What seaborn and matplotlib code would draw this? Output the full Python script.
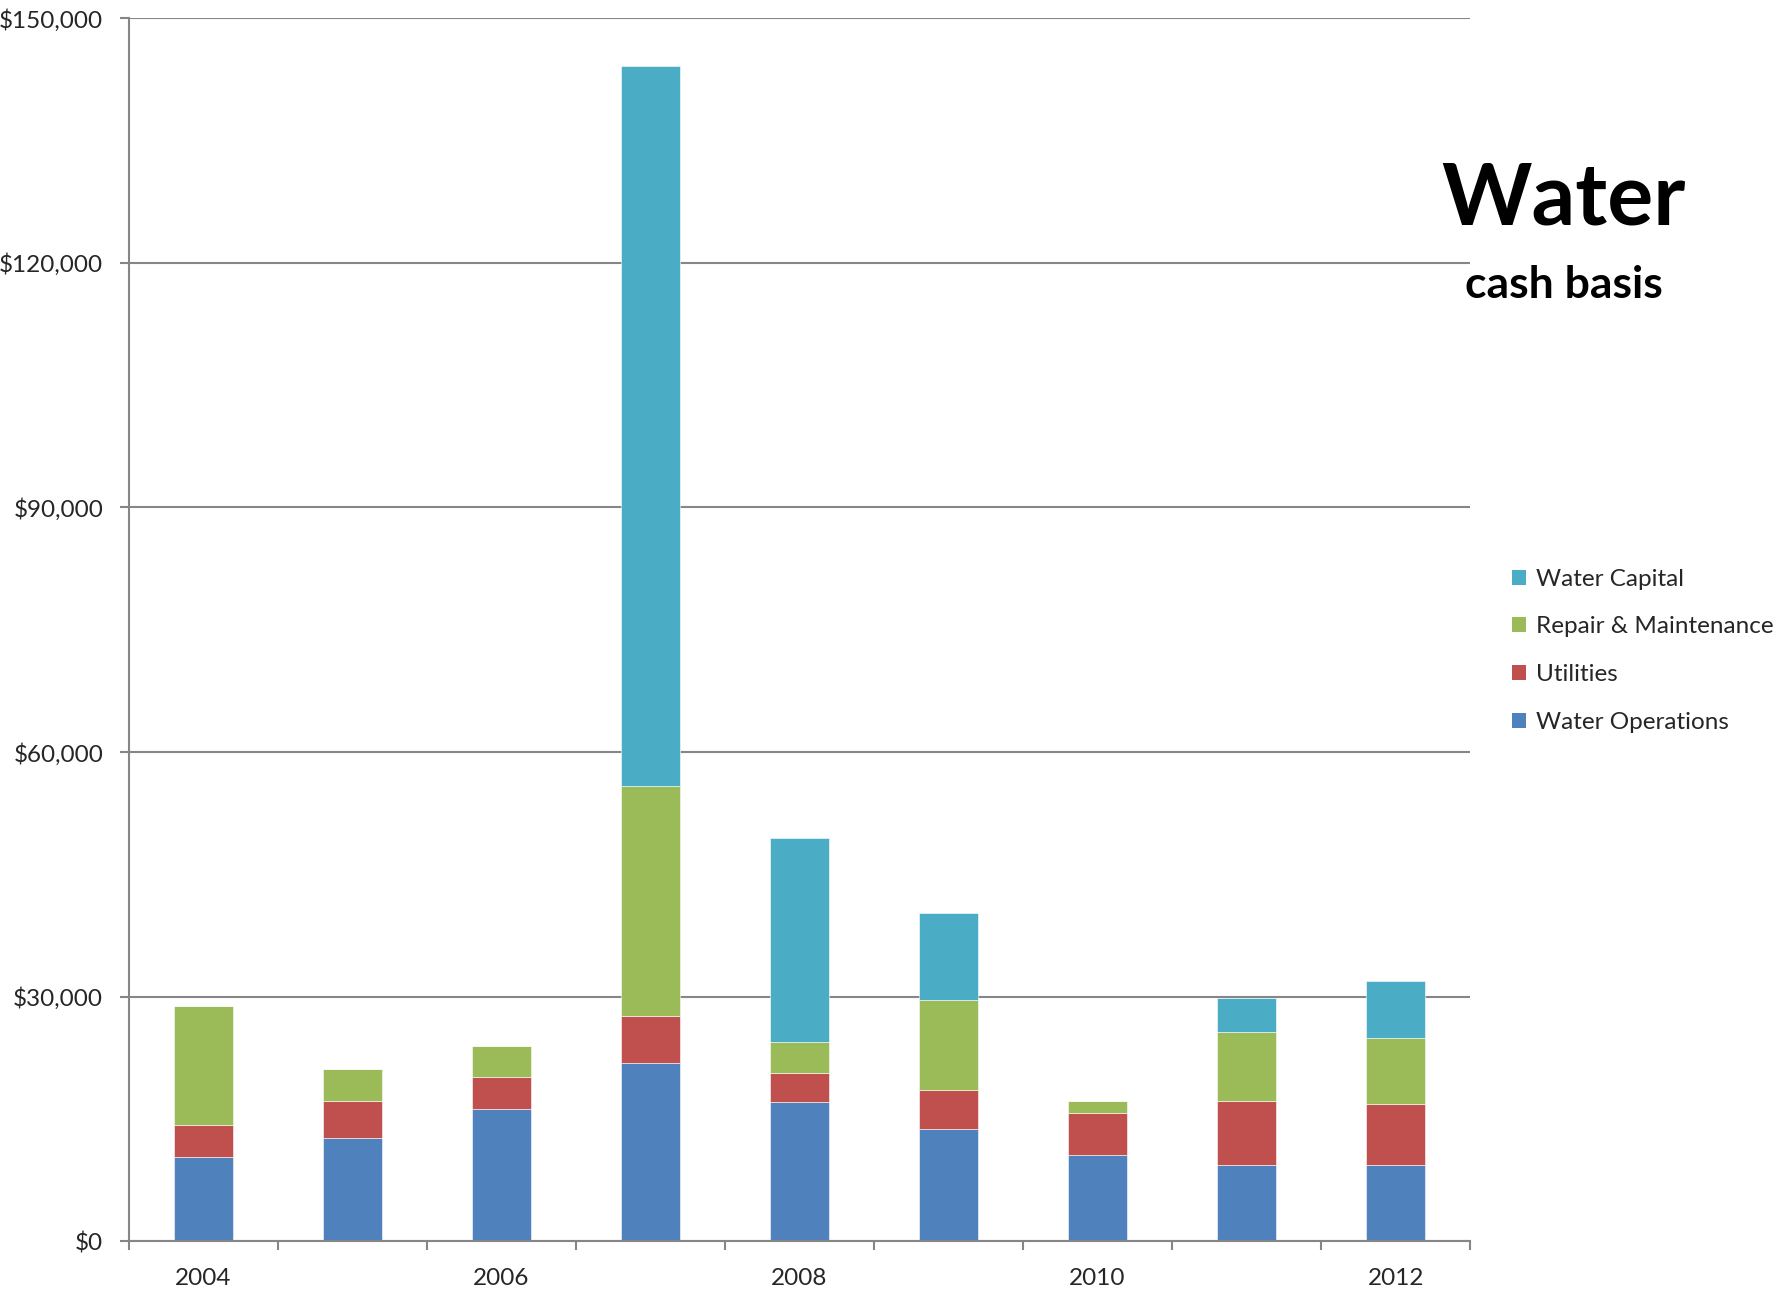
import matplotlib
matplotlib.use("Agg")
import matplotlib.pyplot as plt
from matplotlib.patches import Patch
from matplotlib.ticker import FuncFormatter, FixedLocator
import pandas as pd
import seaborn as sns

years = [2004, 2005, 2006, 2007, 2008, 2009, 2010, 2011, 2012]
water_operations = [10300, 12700, 16200, 21850, 17050, 13800, 10650, 9350, 9400]
utilities = [4000, 4550, 3950, 5750, 3550, 4800, 5100, 7900, 7500]
repair_maintenance = [14600, 3950, 3850, 28300, 3850, 11000, 1450, 8450, 8050]
water_capital = [0, 0, 0, 88200, 25050, 10700, 0, 4200, 7000]

series_names = ["Water Capital", "Repair & Maintenance", "Utilities", "Water Operations"]
series_colors = ["#4BACC6", "#9BBB59", "#C0504D", "#4F81BD"]
y_ticks = [0, 30000, 60000, 90000, 120000, 150000]
x_labels = [2004, 2006, 2008, 2010, 2012]

df = pd.DataFrame({
    "year": years * 4,
    "amount": water_capital + repair_maintenance + utilities + water_operations,
    "series": (["Water Capital"] * len(years) + ["Repair & Maintenance"] * len(years)
               + ["Utilities"] * len(years) + ["Water Operations"] * len(years)),
})

sns.set_theme(style="white")
plt.rcParams["font.family"] = ["Lato", "DejaVu Sans"]

fig = plt.figure(figsize=(17.87, 12.97), dpi=100)
ax = fig.add_axes([0.0721, 0.0428, 0.7506, 0.9432])

sns.histplot(
    data=df, x="year", weights="amount", hue="series",
    hue_order=series_names, palette=series_colors,
    multiple="stack", discrete=True, shrink=0.4,
    alpha=1, edgecolor="white", linewidth=0.4, legend=False, ax=ax,
)

ax.set_xlim(2003.5, 2012.5)
ax.set_ylim(0, 150000)
ax.set_xlabel("")
ax.set_ylabel("")

grid_c = "#868686"
ax.yaxis.set_major_locator(FixedLocator(y_ticks))
ax.yaxis.set_major_formatter(FuncFormatter(lambda v, p: f"${v:,.0f}"))
ax.grid(axis="y", color=grid_c, linewidth=1.5)
ax.set_axisbelow(True)

ax.xaxis.set_major_locator(FixedLocator([y - 0.5 for y in years] + [years[-1] + 0.5]))
ax.xaxis.set_major_formatter(FuncFormatter(lambda v, p: ""))
ax.xaxis.set_minor_locator(FixedLocator(x_labels))
ax.xaxis.set_minor_formatter(FuncFormatter(lambda v, p: f"{int(round(v))}"))

ax.tick_params(axis="x", which="major", direction="out", length=6.5, width=1.5,
               color=grid_c, bottom=True)
ax.tick_params(axis="x", which="minor", length=0, pad=19, labelsize=17.5, bottom=True)
ax.tick_params(axis="y", which="major", direction="out", length=6.5, width=1.5,
               color=grid_c, pad=12, labelsize=17.5, left=True)

for side in ["top", "right"]:
    ax.spines[side].set_visible(False)
for side in ["left", "bottom"]:
    ax.spines[side].set_color(grid_c)
    ax.spines[side].set_linewidth(1.5)

handles = [Patch(facecolor=c, edgecolor="none") for c in series_colors]
fig.legend(handles, series_names, loc="upper left", bbox_to_anchor=(0.8408, 0.569),
           frameon=False, fontsize=17.5, handlelength=0.57, handleheight=0.57,
           handletextpad=0.4, labelspacing=1.1, borderaxespad=0)

fig.text(0.875, 0.8455, "Water", fontsize=62, fontweight="bold", ha="center", va="center",
         color="black")
fig.text(0.875, 0.780, "cash basis", fontsize=32, fontweight="bold", ha="center",
         va="center", color="black")

fig.savefig("out.png", dpi=100, facecolor="white")
